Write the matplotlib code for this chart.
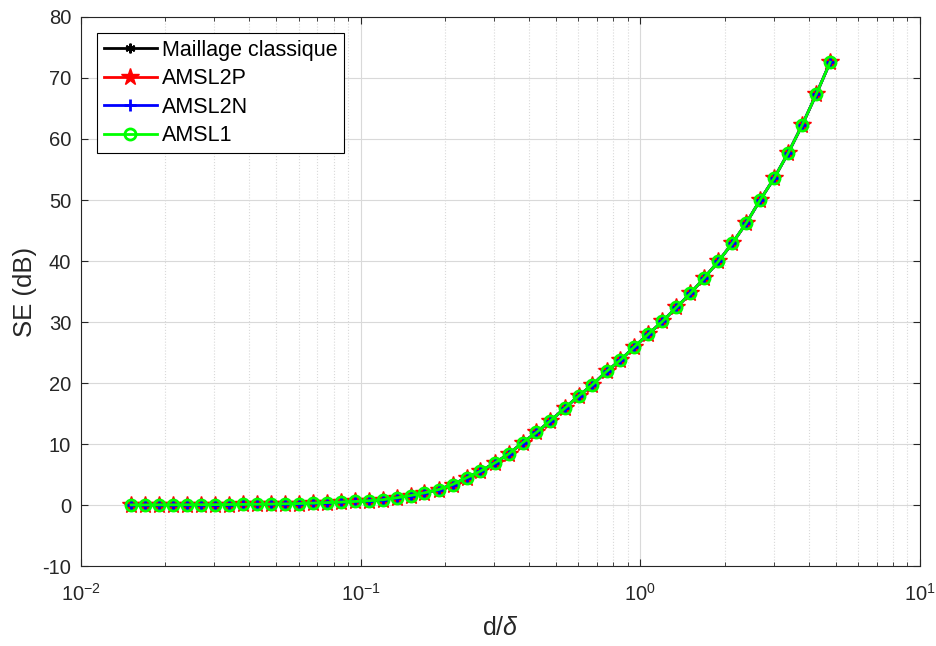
import matplotlib
matplotlib.use("Agg")
import matplotlib.pyplot as plt

# d/delta values
d_delta = [0.0151, 0.0169, 0.0190, 0.0213, 0.0239, 0.0268, 0.0301, 0.0338, 0.0379, 0.0425,
           0.0477, 0.0536, 0.0601, 0.0674, 0.0757, 0.0849, 0.0952, 0.1069, 0.1199, 0.1345,
           0.151, 0.169, 0.190, 0.213, 0.239, 0.268, 0.301, 0.338, 0.379, 0.425,
           0.477, 0.536, 0.601, 0.674, 0.757, 0.849, 0.952, 1.069, 1.199, 1.345,
           1.51, 1.69, 1.90, 2.13, 2.39, 2.68, 3.01, 3.38, 3.79, 4.25, 4.77]

se_classique = [0.02, 0.02, 0.03, 0.03, 0.04, 0.05, 0.06, 0.08, 0.10, 0.12,
                0.15, 0.19, 0.24, 0.31, 0.40, 0.48, 0.58, 0.70, 0.86, 1.18,
                1.56, 2.00, 2.54, 3.36, 4.46, 5.54, 6.87, 8.36, 10.21, 11.90,
                13.82, 15.84, 17.87, 19.72, 21.90, 23.77, 25.95, 28.03, 30.10, 32.39,
                34.69, 37.21, 39.93, 42.89, 46.20, 50.00, 53.60, 57.75, 62.30, 67.30, 72.60]
# the three other meshes give the same values on the picture
se_amsl2p = list(se_classique)
se_amsl2n = list(se_classique)
se_amsl1 = list(se_classique)

plt.rcParams['font.family'] = ['Liberation Sans', 'DejaVu Sans']
plt.rcParams['mathtext.fontset'] = 'custom'
plt.rcParams['mathtext.rm'] = 'Liberation Sans'
plt.rcParams['mathtext.it'] = 'Liberation Sans:italic'
plt.rcParams['axes.unicode_minus'] = False

dark = (0.15, 0.15, 0.15)

fig = plt.figure(figsize=(9.36, 6.46), dpi=100)
ax = fig.add_axes([0.0865, 0.1238, 0.8965, 0.8499])

ax.plot(d_delta, se_classique, color='k', lw=2, marker=(6, 2, 0), ms=7, mew=1.5, label="Maillage classique")
ax.plot(d_delta, se_amsl2p, color='r', lw=2, marker='*', ms=13, label="AMSL2P")
ax.plot(d_delta, se_amsl2n, color='b', lw=2, marker='+', ms=8, mew=2, label="AMSL2N")
ax.plot(d_delta, se_amsl1, color=(0, 1, 0), lw=2, marker='o', ms=8, mew=2, mfc='none', label="AMSL1")

ax.set_xscale('log')
ax.set_xlim(1e-2, 1e1)
ax.set_ylim(-10, 80)
ax.set_yticks(range(-10, 81, 10))

ax.grid(True, which='major', color=(0.85, 0.85, 0.85), lw=0.8)
ax.grid(True, which='minor', axis='x', color=(0.85, 0.85, 0.85), lw=0.8, ls=':')
ax.set_axisbelow(True)

ax.tick_params(which='both', direction='in', top=True, right=True, colors=dark, labelsize=14.5)
ax.tick_params(which='major', length=5)
ax.tick_params(which='minor', length=3)
ax.tick_params(axis='x', which='both', pad=12)
ax.tick_params(axis='y', which='both', pad=7)
for s in ax.spines.values():
    s.set_color(dark)
    s.set_linewidth(0.8)

ax.set_xlabel(r"d/$\mathit{\delta}$", fontsize=18, color=dark, labelpad=8)
ax.set_ylabel("SE (dB)", fontsize=18.5, color=dark, labelpad=4)

leg = ax.legend(loc='upper left', fontsize=15.5, fancybox=False, edgecolor='k', framealpha=1,
                handlelength=2.5, borderaxespad=0.75, labelspacing=0.35, handletextpad=0.2,
                borderpad=0.3)
leg.get_frame().set_linewidth(0.8)

fig.savefig("out.png", dpi=100)
